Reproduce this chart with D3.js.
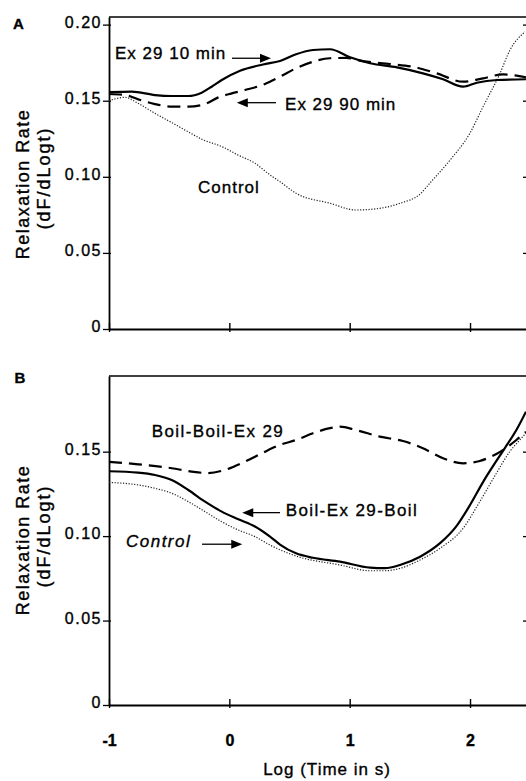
<!DOCTYPE html>
<html><head><meta charset="utf-8">
<script src="https://cdn.jsdelivr.net/npm/d3@7"></script>
<style>
body{margin:0;background:#fff;}
svg{display:block;}
text{font-family:"Liberation Sans",Arial,Helvetica,sans-serif;fill:#000;stroke:#000;stroke-width:0.35px;}
</style>
</head><body>
<svg id="chart" width="526" height="781"></svg>
<script>
// ---------- data ----------
const xTicks = [-1, 0, 1, 2];
const xTickLabels = ["-1", "0", "1", "2"];
const yTicksA = [0, 0.05, 0.10, 0.15, 0.20];
const yTickLabelsA = ["0", "0.05", "0.10", "0.15", "0.20"];
const yTicksB = [0, 0.05, 0.10, 0.15];
const yTickLabelsB = ["0", "0.05", "0.10", "0.15"];

// Panel A  [log time, relaxation rate]
const ex29_10min = [[-1.000,0.1556],[-0.811,0.1560],[-0.618,0.1537],[-0.479,0.1531],[-0.343,0.1531],[-0.230,0.1553],[-0.147,0.1592],[-0.063,0.1636],[0.089,0.1697],[0.280,0.1738],[0.421,0.1761],[0.554,0.1805],[0.695,0.1833],[0.836,0.1838],[1.003,0.1785],[1.169,0.1746],[1.393,0.1719],[1.609,0.1680],[1.776,0.1641],[1.942,0.1592],[2.056,0.1618],[2.225,0.1636],[2.465,0.1641]];
const ex29_90min = [[-1.000,0.1544],[-0.867,0.1538],[-0.757,0.1509],[-0.618,0.1478],[-0.476,0.1461],[-0.341,0.1461],[-0.202,0.1478],[-0.092,0.1522],[0.020,0.1548],[0.130,0.1570],[0.296,0.1610],[0.421,0.1658],[0.554,0.1713],[0.695,0.1756],[0.836,0.1779],[0.970,0.1781],[1.111,0.1760],[1.335,0.1741],[1.526,0.1723],[1.723,0.1680],[1.942,0.1625],[2.108,0.1647],[2.274,0.1673],[2.465,0.1654]];
const controlA = [[-1.000,0.1500],[-0.867,0.1522],[-0.759,0.1483],[-0.618,0.1417],[-0.476,0.1355],[-0.343,0.1296],[-0.227,0.1246],[-0.061,0.1198],[0.072,0.1143],[0.213,0.1089],[0.338,0.1012],[0.421,0.0968],[0.554,0.0892],[0.836,0.0826],[1.053,0.0782],[1.252,0.0793],[1.418,0.0826],[1.585,0.0887],[1.668,0.0960],[1.834,0.1110],[2.000,0.1288],[2.108,0.1460],[2.249,0.1680],[2.332,0.1833],[2.457,0.1953]];

// Panel B
const boilBoilEx29 = [[-1.000,0.1440],[-0.757,0.1425],[-0.479,0.1402],[-0.313,0.1382],[-0.175,0.1373],[-0.036,0.1392],[0.130,0.1441],[0.269,0.1490],[0.421,0.1540],[0.554,0.1569],[0.695,0.1609],[0.836,0.1639],[0.920,0.1648],[1.053,0.1628],[1.250,0.1589],[1.443,0.1563],[1.609,0.1520],[1.776,0.1461],[1.942,0.1431],[2.081,0.1445],[2.219,0.1486],[2.385,0.1569],[2.465,0.1618]];
const boilEx29Boil = [[-1.000,0.1384],[-0.759,0.1376],[-0.618,0.1362],[-0.479,0.1332],[-0.341,0.1273],[-0.202,0.1204],[-0.063,0.1145],[0.075,0.1100],[0.213,0.1057],[0.338,0.0997],[0.421,0.0950],[0.554,0.0898],[0.695,0.0872],[0.920,0.0849],[1.169,0.0813],[1.294,0.0810],[1.418,0.0829],[1.585,0.0878],[1.751,0.0958],[1.884,0.1056],[2.000,0.1184],[2.108,0.1320],[2.219,0.1445],[2.288,0.1520],[2.385,0.1628],[2.465,0.1737]];
const controlB = [[-1.000,0.1318],[-0.757,0.1303],[-0.618,0.1283],[-0.479,0.1254],[-0.341,0.1204],[-0.202,0.1145],[-0.063,0.1085],[0.075,0.1036],[0.213,0.0997],[0.338,0.0947],[0.554,0.0882],[0.920,0.0829],[1.169,0.0795],[1.294,0.0795],[1.418,0.0809],[1.585,0.0859],[1.751,0.0928],[1.942,0.1046],[2.081,0.1204],[2.219,0.1372],[2.330,0.1500],[2.413,0.1569],[2.465,0.1609]];

const xTitle = "Log (Time in s)";
const yTitle1 = "Relaxation Rate";
const yTitle2 = "(dF/dLogt)";

// ---------- layout ----------
const svg = d3.select("#chart");
const X0 = 109, X1 = 529;
const x = d3.scaleLinear().domain([-1, 2.49]).range([X0, X1]);
const yA = d3.scaleLinear().domain([0, 0.205]).range([329, 17]);
const yB = d3.scaleLinear().domain([0, 0.1948]).range([705, 376]);

const styles = {
  solid:  {w: 2.2, dash: null, color: "#000"},
  dashed: {w: 2.2, dash: "13,7", color: "#000"},
  dotted: {w: 1.2, dash: "1.2,1.6", color: "#222"}
};

function panel(y, yTicks, yLabels, showX, clipId) {
  const g = svg.append("g");
  svg.append("clipPath").attr("id", clipId).append("rect")
    .attr("x", X0).attr("y", y.range()[1]).attr("width", X1 - X0).attr("height", y.range()[0] - y.range()[1]);

  const ax = g.append("g").attr("transform", `translate(${X0},0)`)
    .call(d3.axisLeft(y).tickValues(yTicks).tickFormat((d, i) => yLabels[i]).tickSizeInner(6).tickSizeOuter(0).tickPadding(1));
  ax.select(".domain").attr("stroke", "#000").attr("stroke-width", 1.8);
  ax.selectAll(".tick line").attr("x1", 2).attr("stroke", "#000").attr("stroke-width", 1.3);
  ax.selectAll(".tick text").attr("font-size", 16).attr("letter-spacing", 1.5).attr("dy", "0.17em")
    .style("font-family", '"Liberation Sans",Arial,sans-serif');

  const ar = g.append("g").attr("transform", `translate(${X1},0)`)
    .call(d3.axisRight(y).tickValues(yTicks.filter(d => d > 0)).tickFormat("").tickSizeInner(-6).tickSizeOuter(0));
  ar.select(".domain").attr("stroke", "#000").attr("stroke-width", 1.8);
  ar.selectAll(".tick line").attr("stroke", "#000").attr("stroke-width", 1.3);

  g.append("line").attr("x1", X0).attr("x2", X1).attr("y1", y.range()[1]).attr("y2", y.range()[1])
    .attr("stroke", "#000").attr("stroke-width", 1.6);

  const ab = g.append("g").attr("transform", `translate(0,${y(0)})`)
    .call(d3.axisBottom(x).tickValues(xTicks).tickFormat((d, i) => showX ? xTickLabels[i] : "").tickSizeInner(3).tickSizeOuter(0));
  ab.select(".domain").attr("stroke", "#000").attr("stroke-width", 2);
  ab.selectAll(".tick line").attr("y1", -6).attr("stroke", "#000").attr("stroke-width", 1.4);
  ab.selectAll(".tick text").attr("y", 41).attr("dy", 0).attr("font-size", 16).attr("font-weight", "bold")
    .style("font-family", '"Liberation Sans",Arial,sans-serif');
  return g;
}

function curve(g, y, data, st, clipId) {
  const line = d3.line().x(d => x(d[0])).y(d => y(d[1])).curve(d3.curveMonotoneX);
  g.append("path").datum(data).attr("d", line).attr("fill", "none")
    .attr("stroke", st.color).attr("stroke-width", st.w)
    .attr("stroke-dasharray", st.dash).attr("stroke-linejoin", "round")
    .attr("clip-path", `url(#${clipId})`);
}

function arrow(g, xs, xt, yy) {
  const dir = xt > xs ? 1 : -1;
  const L = 11, W = 4.5;
  g.append("line").attr("x1", xs).attr("x2", xt - dir * L + dir).attr("y1", yy).attr("y2", yy)
    .attr("stroke", "#000").attr("stroke-width", 1.3);
  g.append("path").attr("d", `M${xt},${yy}L${xt - dir * L},${yy - W}L${xt - dir * L},${yy + W}Z`).attr("fill", "#000");
}

function label(g, txt, px, py, opts = {}) {
  g.append("text").attr("x", px).attr("y", py).text(txt)
    .attr("font-size", opts.size || 17).attr("letter-spacing", opts.ls != null ? opts.ls : 1)
    .attr("font-style", opts.italic ? "italic" : null);
}

// ---------- Panel A ----------
const gA = panel(yA, yTicksA, yTickLabelsA, false, "clipA");
curve(gA, yA, controlA, styles.dotted, "clipA");
curve(gA, yA, ex29_90min, styles.dashed, "clipA");
curve(gA, yA, ex29_10min, styles.solid, "clipA");
label(gA, "Ex 29 10 min", x(-0.950), yA(0.1774));
arrow(gA, x(0.022), x(0.346), yA(0.1779));
label(gA, "Ex 29 90 min", x(0.463), yA(0.1439));
arrow(gA, x(0.388), x(0.062), yA(0.1487));
label(gA, "Control", x(-0.260), yA(0.0894));

// ---------- Panel B ----------
const gB = panel(yB, yTicksB, yTickLabelsB, true, "clipB");
curve(gB, yB, controlB, styles.dotted, "clipB");
curve(gB, yB, boilBoilEx29, styles.dashed, "clipB");
curve(gB, yB, boilEx29Boil, styles.solid, "clipB");
label(gB, "Boil-Boil-Ex 29", x(-0.645), yB(0.1585), {ls: 1.4});
label(gB, "Boil-Ex 29-Boil", x(0.468), yB(0.1119), {ls: 1.4});
arrow(gB, x(0.421), x(0.107), yB(0.1139));
label(gB, "Control", x(-0.859), yB(0.0937), {italic: true, ls: 1.5});
arrow(gB, x(-0.227), x(0.107), yB(0.0952));

// ---------- titles ----------
function vtitle(txt, bx, cy, ls) {
  svg.append("text").attr("transform", `translate(${bx},${cy}) rotate(-90)`)
    .attr("text-anchor", "middle").attr("font-size", 18).attr("letter-spacing", ls).text(txt);
}
vtitle(yTitle1, 29, 184, 1.5);
vtitle(yTitle2, 50, 178, 2);
vtitle(yTitle1, 29, 540, 1.5);
vtitle(yTitle2, 50, 536, 2);

svg.append("text").attr("x", 327).attr("y", 775).attr("text-anchor", "middle")
  .attr("font-size", 17).attr("letter-spacing", 1).text(xTitle);

svg.append("text").attr("x", 13).attr("y", 29).attr("font-size", 15).attr("font-weight", "bold").text("A");
svg.append("text").attr("x", 14.5).attr("y", 383).attr("font-size", 15).attr("font-weight", "bold").text("B");
</script>
</body></html>
